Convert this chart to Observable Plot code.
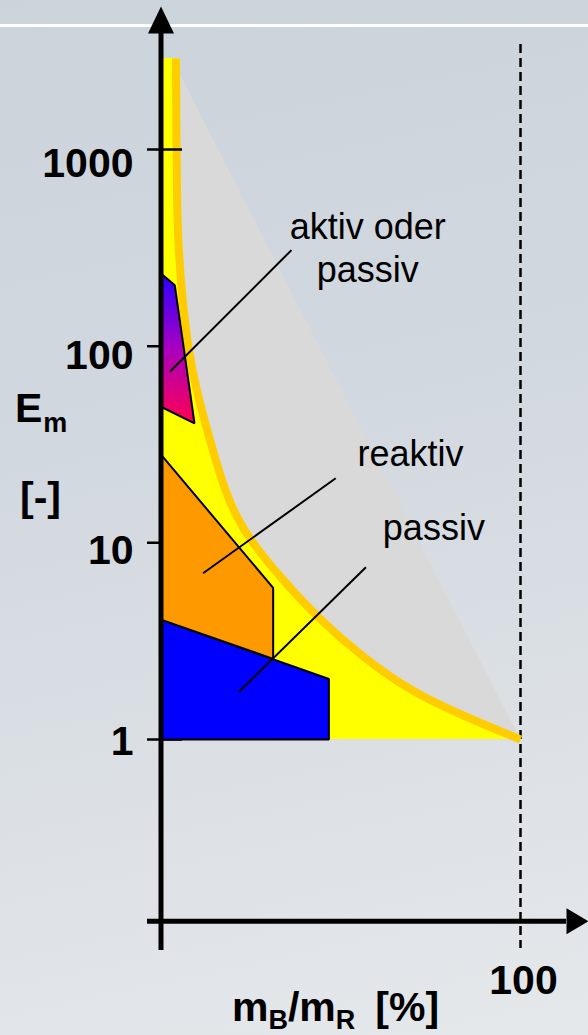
<!DOCTYPE html>
<html>
<head>
<meta charset="utf-8">
<script src="https://cdn.jsdelivr.net/npm/d3@7"></script>
<script src="https://cdn.jsdelivr.net/npm/@observablehq/plot@0.6"></script>
<style>
  html, body { margin: 0; padding: 0; }
  body {
    width: 588px;
    height: 1035px;
    overflow: hidden;
    background:
      linear-gradient(to bottom, transparent 24px, #ffffff 24px, #ffffff 27px, transparent 27px),
      linear-gradient(168deg, #cbd3db 0%, #d2d8df 40%, #e5e8eb 100%);
  }
  svg { display: block; }
</style>
</head>
<body>
<script>
// E_m axis ticks (log scale)
const emTicks = [1, 10, 100, 1000];

// Boundary curve: m_B/m_R (%) against E_m
const boundaryShare = [4.17, 4.31, 4.45, 4.87, 5.98, 7.65, 9.87, 12.9, 16.8, 20.7, 25.5, 33.5, 43.5, 55.5, 70.2, 88.9, 100];
const boundaryEm    = [2900, 984, 548, 305, 170, 94.9, 59.3, 37.2, 20.7, 13.7, 9.91, 6.58, 4.17, 2.67, 1.71, 1.21, 1];

// Grey wedge behind the boundary
const wedgeShare = [0, 3.2, 100];
const wedgeEm    = [1, 2850, 1];

// Regions
const passivShare  = [0, 0, 46.7, 46.7];
const passivEm     = [1, 4.07, 2.03, 1];
const reaktivShare = [0, 31.2, 31.2, 0];
const reaktivEm    = [28.1, 5.9, 2.57, 4.07];
const aktivShare   = [0, 3.84, 9.32, 0];
const aktivEm      = [234, 204, 40.5, 49.2];

// Region labels and their leader lines
const regionLabels    = ["aktiv oder\npassiv", "reaktiv", "passiv"];
const labelShare      = [57.5, 69.4, 75.9];
const labelEm         = [211, 24.7, 10.3];
const leaderFromShare = [2.45, 11.7, 21.6];
const leaderFromEm    = [74.1, 7.0, 1.74];
const leaderToShare   = [36.3, 48.6, 57.0];
const leaderToEm      = [308, 21.3, 7.51];

// Share axis crosses the E_m axis here
const xAxisEm = 0.119;

const rows = (xs, ys) => xs.map((x, i) => ({x, y: ys[i]}));
const ring = (xs, ys) => rows(xs, ys).concat([{x: xs[0], y: ys[0]}]);

const boundary = rows(boundaryShare, boundaryEm);
const labels = regionLabels.map((text, i) => ({text, x: labelShare[i], y: labelEm[i]}));
const leaders = leaderFromShare.map((x1, i) => ({
  x1, y1: leaderFromEm[i], x2: leaderToShare[i], y2: leaderToEm[i]
}));

const font = "'Liberation Sans', Arial, sans-serif";
const tickLabelShift = [2, 8, 10, 14];

// gradient for the "aktiv oder passiv" region
const aktivGradient = () => {
  const defs = d3.create("svg:defs");
  const lg = defs.append("linearGradient")
    .attr("id", "aktivFill").attr("x1", 0).attr("y1", 0).attr("x2", 0).attr("y2", 1);
  lg.append("stop").attr("offset", "0%").attr("stop-color", "#2a00ff");
  lg.append("stop").attr("offset", "50%").attr("stop-color", "#a800c0");
  lg.append("stop").attr("offset", "100%").attr("stop-color", "#ff0050");
  return defs.node();
};

// axis titles with subscripts
const axisTitles = () => {
  const g = d3.create("svg:g")
    .attr("font-family", font).attr("font-weight", "bold").attr("font-size", 41)
    .attr("fill", "black").attr("text-anchor", "start");
  const e = g.append("text").attr("x", 15).attr("y", 422);
  e.append("tspan").text("E");
  e.append("tspan").attr("font-size", 27).attr("dx", 1).attr("dy", 10).text("m");
  g.append("text").attr("x", 20).attr("y", 511).text("[-]");
  const m = g.append("text").attr("x", 232).attr("y", 1021);
  m.append("tspan").text("m");
  m.append("tspan").attr("font-size", 27).attr("dy", 8).text("B");
  m.append("tspan").attr("dy", -8).text("/m");
  m.append("tspan").attr("font-size", 27).attr("dy", 8).text("R");
  m.append("tspan").attr("dx", 20).attr("dy", -8).text("[%]");
  return g.node();
};

// filled arrowheads for the axes
const arrowUp = {draw(ctx) { ctx.moveTo(0, -27); ctx.lineTo(13, 0); ctx.lineTo(-13, 0); ctx.closePath(); }};
const arrowRight = {draw(ctx) { ctx.moveTo(22, 0); ctx.lineTo(0, -13); ctx.lineTo(0, 13); ctx.closePath(); }};

const bold = {fontFamily: font, fontSize: 41, fontWeight: "bold", fill: "black"};

const chart = Plot.plot({
  width: 588,
  height: 1035,
  margin: 0,
  style: {background: "transparent", fontFamily: font, overflow: "visible"},
  x: {domain: [0, 100], range: [160.5, 520], axis: null},
  y: {type: "log", domain: [1, 1000], range: [739, 149], axis: null},
  marks: [
    aktivGradient,
    // grey wedge
    Plot.line(ring(wedgeShare, wedgeEm), {x: "x", y: "y", fill: "#d9d9d9", stroke: "none"}),
    // yellow admissible area
    Plot.areaX(boundary, {y: "y", x1: 0, x2: "x", fill: "#ffff00", curve: "basis"}),
    // 100 % reference line
    Plot.ruleX([100], {insetTop: 44, insetBottom: 87, stroke: "black", strokeWidth: 2.5, strokeDasharray: "9 5"}),
    // boundary curve
    Plot.line(boundary, {x: "x", y: "y", stroke: "#ffcc00", strokeWidth: 8, curve: "basis", strokeLinecap: "butt"}),
    // E_m ticks
    Plot.ruleY(emTicks, {insetLeft: 147, insetRight: 406, stroke: "black", strokeWidth: 2.5}),
    // regions
    Plot.line(ring(passivShare, passivEm), {x: "x", y: "y", fill: "#0000ff", stroke: "black", strokeWidth: 2, strokeLinejoin: "miter"}),
    Plot.line(ring(reaktivShare, reaktivEm), {x: "x", y: "y", fill: "#ff9900", stroke: "black", strokeWidth: 2, strokeLinejoin: "miter"}),
    Plot.line(ring(aktivShare, aktivEm), {x: "x", y: "y", fill: "url(#aktivFill)", stroke: "black", strokeWidth: 2, strokeLinejoin: "miter"}),
    // leader lines
    Plot.link(leaders, {x1: "x1", y1: "y1", x2: "x2", y2: "y2", stroke: "black", strokeWidth: 2}),
    // axes
    Plot.ruleX([0], {insetTop: 33, insetBottom: 85, stroke: "black", strokeWidth: 5}),
    Plot.ruleY([xAxisEm], {insetLeft: 147, insetRight: 22, stroke: "black", strokeWidth: 5}),
    Plot.dot([0], {x: d => d, frameAnchor: "top", dy: 33, symbol: arrowUp, fill: "black", stroke: "none"}),
    Plot.dot([xAxisEm], {y: d => d, frameAnchor: "right", dx: -22, symbol: arrowRight, fill: "black", stroke: "none"}),
    // tick labels
    emTicks.map((t, i) => Plot.text([t], {
      y: d => d, text: d => String(d), frameAnchor: "left", textAnchor: "end",
      dx: 133, dy: tickLabelShift[i], lineAnchor: "middle", ...bold
    })),
    Plot.text([100], {x: d => d, text: d => String(d), frameAnchor: "bottom", dy: -42, dx: 3, lineAnchor: "bottom", textAnchor: "middle", ...bold}),
    axisTitles,
    // region labels
    Plot.text(labels, {x: "x", y: "y", text: "text", textAnchor: "middle", lineAnchor: "bottom", lineHeight: 1.2,
      fontFamily: font, fontSize: 36, fill: "black"})
  ]
});

document.body.appendChild(chart);
</script>
</body>
</html>
